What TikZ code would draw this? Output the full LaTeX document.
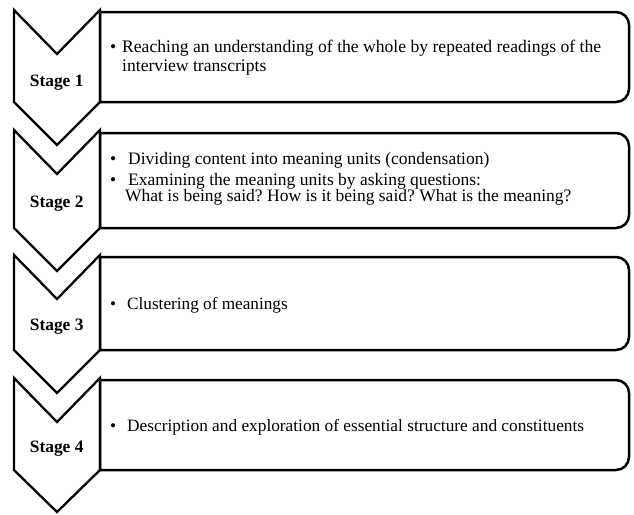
\documentclass[tikz,border=0pt]{standalone}
\usepackage{fontspec}
\setmainfont{Liberation Serif}
\frenchspacing
\begin{document}
\begin{tikzpicture}[x=1pt,y=-1pt,
  chev/.style={draw=black,line width=2.3pt,line join=miter},
  stagebox/.style={draw=black,line width=2.5pt},
  stagelbl/.style={anchor=base,inner sep=0pt,font=\fontsize{17.4}{20}\selectfont\bfseries},
  itemtxt/.style={anchor=base west,inner sep=0pt,font=\fontsize{#1}{20}\selectfont},
  itemtxt/.default=17.6]
\useasboundingbox (0,0) rectangle (634,514);
% chevrons
\draw[chev] (14,10) -- (57,54) -- (100,10) -- (100,102) -- (57,145) -- (14,102) -- cycle;
\draw[chev] (14,130) -- (57,174) -- (100,130) -- (100,228) -- (57,271) -- (14,228) -- cycle;
\draw[chev] (14,255) -- (57,299) -- (100,255) -- (100,350) -- (57,393) -- (14,350) -- cycle;
\draw[chev] (14,378) -- (57,422) -- (100,378) -- (100,470) -- (57,512) -- (14,470) -- cycle;
% boxes
\draw[stagebox] (100,12) [rounded corners=13pt] -- (629,12) -- (629,102) [sharp corners] -- (100,102) -- cycle;
\draw[stagebox] (100,133) [rounded corners=13pt] -- (629,133) -- (629,228) [sharp corners] -- (100,228) -- cycle;
\draw[stagebox] (100,257) [rounded corners=13pt] -- (629,257) -- (629,350) [sharp corners] -- (100,350) -- cycle;
\draw[stagebox] (100,380) [rounded corners=13pt] -- (629,380) -- (629,470) [sharp corners] -- (100,470) -- cycle;
% stage labels
\node[stagelbl] (s1) at (56.7,86) {Stage 1};
\node[stagelbl] (s2) at (56.7,207) {Stage 2};
\node[stagelbl] (s3) at (56.7,330) {Stage 3};
\node[stagelbl] (s4) at (56.7,452) {Stage 4};
% texts
\node[itemtxt] (t1a) at (110,52.7) {\makebox[12pt][l]{\textbullet}Reaching an understanding of the whole by repeated readings of the};
\node[itemtxt] (t1b) at (122,71.5) {interview transcripts};
\node[itemtxt=17.5] (t2a) at (110,164.5) {\makebox[18pt][l]{\textbullet}Dividing content into meaning units (condensation)};
\node[itemtxt=17.5] (t2b) at (110,185) {\makebox[18pt][l]{\textbullet}Examining the meaning units by asking questions:};
\node[itemtxt=17.5] (t2c) at (125,201.5) {What is being said? How is it being said? What is the meaning?};
\node[itemtxt=17.2] (t3) at (110,309) {\makebox[17pt][l]{\textbullet}Clustering of meanings};
\node[itemtxt=17.3] (t4) at (110,431) {\makebox[17pt][l]{\textbullet}Description and exploration of essential structure and constituents};
\end{tikzpicture}
\end{document}
